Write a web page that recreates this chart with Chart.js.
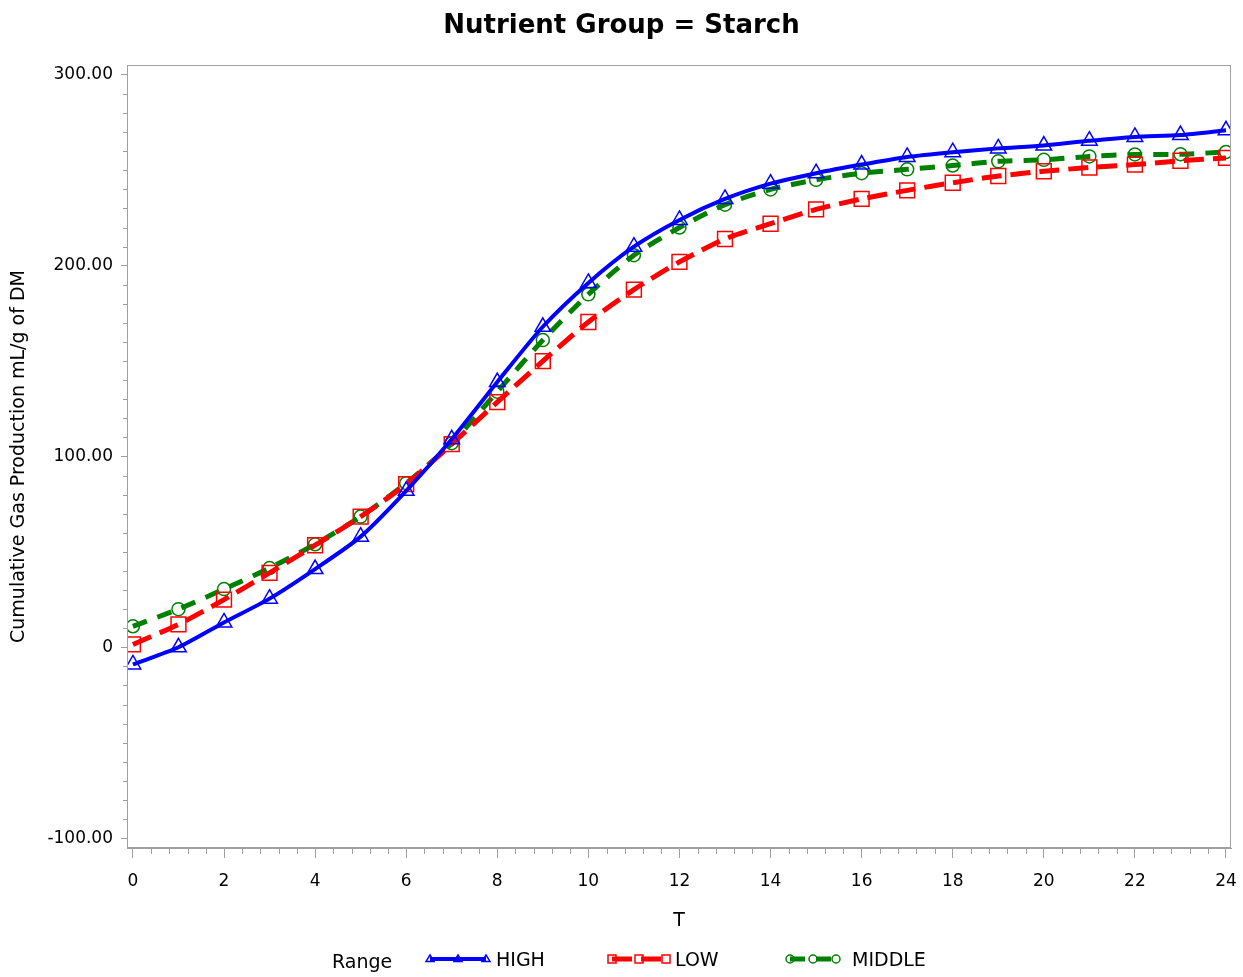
<!DOCTYPE html>
<html lang="en">
<head>
  <meta charset="UTF-8">
  <title>Nutrient Group = Starch</title>
  <script src="https://cdn.jsdelivr.net/npm/chart.js"></script>
  <style>
    body { margin: 0; background: #fff; }
    #wrap { width: 1243px; height: 977px; }
  </style>
</head>
<body>
  <div id="wrap"><canvas id="gasChart"></canvas></div>

  <script>
    // hours of incubation
    const T = [0,1,2,3,4,5,6,7,8,9,10,11,12,13,14,15,16,17,18,19,20,21,22,23,24];
    // cumulative gas production, mL/g of DM
    const HIGH   = [-9, 0, 13, 25.5, 41, 58, 82, 109, 139, 168, 191, 210, 224, 235, 243, 248.5, 253, 257, 259.5, 261.5, 263, 265.5, 267.5, 268.5, 271];
    const LOW    = [1.5, 12, 25, 39, 53.5, 68.5, 85.5, 106.5, 128.5, 150, 170.5, 187.5, 202, 214, 222, 229.5, 235, 239.5, 243.5, 247, 249.5, 251.5, 253, 255, 256.5];
    const MIDDLE = [11, 20, 30.5, 41.5, 54, 68.5, 86, 107, 134, 161, 185, 205.5, 220, 232, 240, 245, 248.5, 250.5, 252.5, 254.7, 255.5, 257.3, 258.3, 258.4, 259.6];
    const X_TICKS = [0,2,4,6,8,10,12,14,16,18,20,22,24];
    const Y_TICKS = [-100, 0, 100, 200, 300];

    const FONT = 'DejaVu Sans, sans-serif';
    const AXIS_GRAY = '#a0a0a0';

    // frame on all four sides + minor ticks
    const frameAndMinor = {
      id: 'frameAndMinor',
      afterDraw(chart) {
        const { ctx, chartArea: a, scales: { x, y } } = chart;
        ctx.save();
        ctx.strokeStyle = AXIS_GRAY;
        ctx.lineWidth = 1;
        ctx.strokeRect(a.left + 0.5, a.top + 0.5, a.right - a.left - 1, a.bottom - a.top - 1);
        ctx.beginPath();
        for (let i = 0; i <= 60; i++) {
          if (i % 5 === 0) continue;
          const px = Math.round(x.getPixelForValue(i * 0.4)) + 0.5;
          ctx.moveTo(px, a.bottom + 1); ctx.lineTo(px, a.bottom + 6);
        }
        for (let v = -100; v <= 300; v += 10) {
          if (v % 100 === 0) continue;
          const py = Math.round(y.getPixelForValue(v)) + 0.5;
          ctx.moveTo(a.left - 4, py); ctx.lineTo(a.left, py);
        }
        ctx.stroke();
        ctx.restore();
      }
    };

    function marker(ctx, style, cx, cy, r) {
      ctx.beginPath();
      if (style === 'triangle') {
        ctx.moveTo(cx - r, cy + r * 0.6);
        ctx.lineTo(cx + r, cy + r * 0.6);
        ctx.lineTo(cx, cy - r);
        ctx.closePath();
      } else if (style === 'rect') {
        ctx.rect(cx - r, cy - r, 2 * r, 2 * r);
      } else {
        ctx.arc(cx, cy, r, 0, Math.PI * 2);
      }
      ctx.stroke();
    }

    // SAS-style legend: "Range" then line + three markers per group
    const rangeLegend = {
      id: 'rangeLegend',
      afterDraw(chart) {
        const { ctx } = chart;
        const yy = 959;
        const slots = [
          { x0: 430, x1: 486, tx: 496 },
          { x0: 612, x1: 666, tx: 675 },
          { x0: 790, x1: 836, tx: 852 }
        ];
        ctx.save();
        ctx.font = '19px ' + FONT;
        ctx.fillStyle = '#000';
        ctx.textBaseline = 'middle';
        ctx.fillText('Range', 332, yy + 4);
        chart.data.datasets.forEach((ds, i) => {
          const s = slots[i];
          ctx.strokeStyle = ds.borderColor;
          ctx.lineWidth = ds.borderWidth;
          ctx.setLineDash(ds.borderDash || []);
          ctx.beginPath(); ctx.moveTo(s.x0, yy); ctx.lineTo(s.x1, yy); ctx.stroke();
          ctx.setLineDash([]);
          ctx.lineWidth = 1.5;
          [s.x0, (s.x0 + s.x1) / 2, s.x1].forEach(mx => marker(ctx, ds.pointStyle, mx, yy, 4));
          ctx.fillStyle = '#000';
          ctx.fillText(ds.label, s.tx, yy + 2);
        });
        ctx.restore();
      }
    };

    const ctx = document.getElementById('gasChart').getContext('2d');
    const chart = new Chart(ctx, {
      type: 'line',
      data: {
        labels: T,
        datasets: [
          { label: 'HIGH', data: T.map((t, i) => ({ x: t, y: HIGH[i] })), borderColor: '#0000ff', borderWidth: 4,
            pointStyle: 'triangle', pointRadius: 9, pointBorderWidth: 1.5, pointBackgroundColor: 'transparent', pointBorderColor: '#0000ff', tension: 0.25 },
          { label: 'LOW', data: T.map((t, i) => ({ x: t, y: LOW[i] })), borderColor: '#ff0000', borderWidth: 5, borderDash: [20, 9],
            pointStyle: 'rect', pointRadius: 10.5, pointBorderWidth: 1.5, pointBackgroundColor: 'transparent', pointBorderColor: '#ff0000', tension: 0.25 },
          { label: 'MIDDLE', data: T.map((t, i) => ({ x: t, y: MIDDLE[i] })), borderColor: '#008000', borderWidth: 5, borderDash: [15, 11],
            pointStyle: 'circle', pointRadius: 6.5, pointBorderWidth: 1.5, pointBackgroundColor: 'transparent', pointBorderColor: '#008000', tension: 0.25 }
        ]
      },
      options: {
        responsive: true,
        maintainAspectRatio: false,
        animation: false,
        layout: { padding: { left: 0, right: 0, top: 0, bottom: 45 } },
        scales: {
          x: {
            type: 'linear', min: -0.13, max: 24.11,
            afterBuildTicks: s => { s.ticks = X_TICKS.map(v => ({ value: v })); },
            afterFit: s => { s.height = 84; s.paddingRight = 9; },
            afterUpdate: s => { s.paddingRight = 9; },
            grid: { drawOnChartArea: false, tickLength: 10, color: AXIS_GRAY },
            border: { color: AXIS_GRAY },
            ticks: { color: '#000', font: { family: FONT, size: 17 }, padding: 13, maxRotation: 0 },
            title: { display: true, text: 'T', color: '#000', font: { family: FONT, size: 19 }, padding: { top: 0, bottom: 0 } }
          },
          y: {
            min: -105.2, max: 305.2,
            afterBuildTicks: s => { s.ticks = Y_TICKS.map(v => ({ value: v })); },
            afterFit: s => { s.width = 127; },
            grid: { drawOnChartArea: false, tickLength: 6, color: AXIS_GRAY },
            border: { color: AXIS_GRAY },
            ticks: { color: '#000', font: { family: FONT, size: 17 }, padding: 8,
                     callback: v => v === 0 ? '0' : v.toFixed(2) },
            title: { display: true, text: 'Cumulative Gas Production mL/g of DM', color: '#000',
                     font: { family: FONT, size: 19 }, padding: { top: 8, bottom: 0 } }
          }
        },
        plugins: {
          legend: { display: false },
          tooltip: { enabled: false },
          title: { display: true, text: 'Nutrient Group = Starch', color: '#000',
                   font: { family: FONT, size: 26, weight: 'bold' }, padding: { top: 11, bottom: 22.8 } }
        }
      },
      plugins: [frameAndMinor, rangeLegend]
    });
  </script>
</body>
</html>
